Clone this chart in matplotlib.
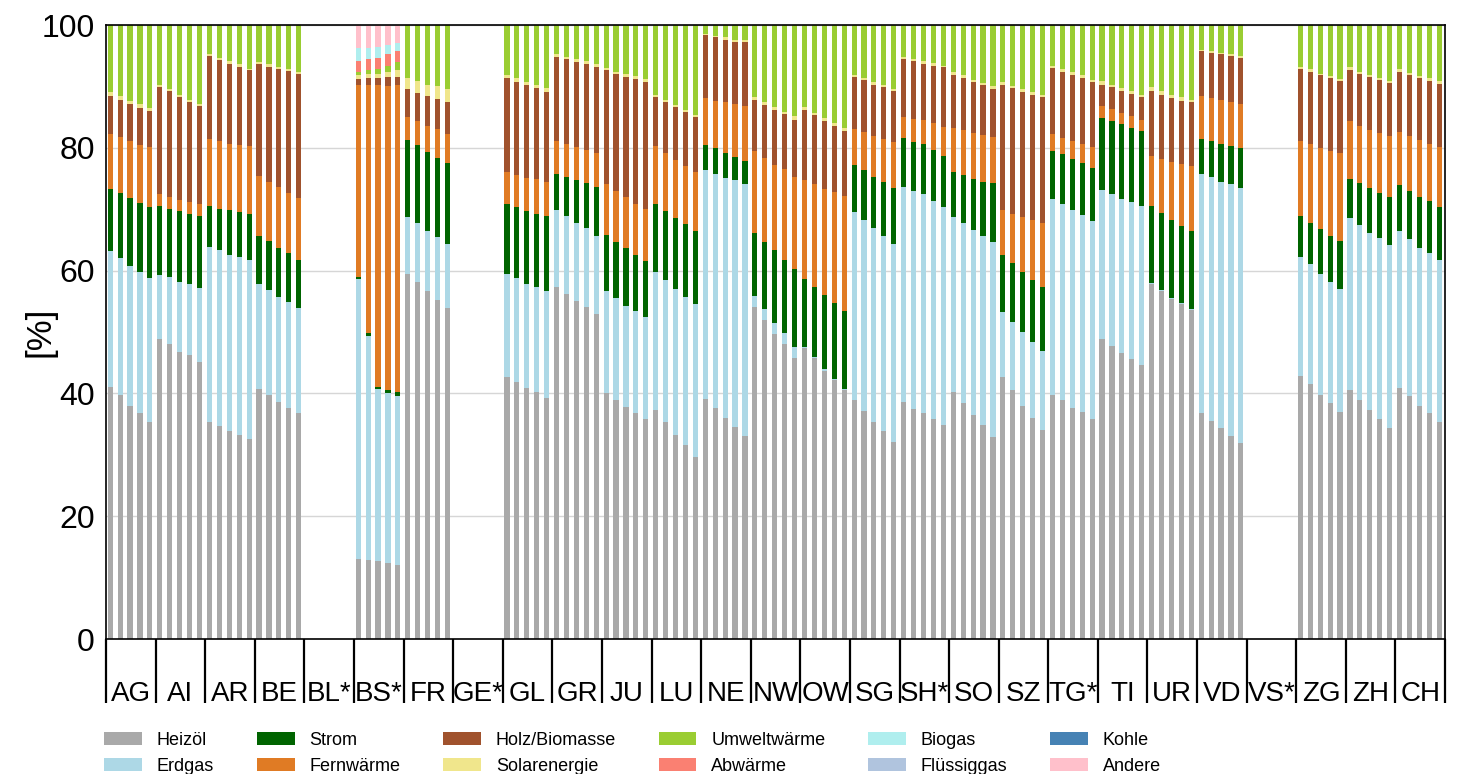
import numpy as np
import matplotlib.pyplot as plt

plt.rcParams['font.family'] = ['Liberation Sans', 'DejaVu Sans']

# Kantone (je 5 Erhebungsjahre), * = unvollstaendige Daten
kantone = ["AG", "AI", "AR", "BE", "BL*", "BS*", "FR", "GE*", "GL", "GR",
           "JU", "LU", "NE", "NW", "OW", "SG", "SH*", "SO", "SZ", "TG*",
           "TI", "UR", "VD", "VS*", "ZG", "ZH", "CH"]

# Anteile in %, eine Zeile pro Kanton (None = keine Daten)
heizoel = [
    [41.1, 39.7, 38.0, 36.8, 35.3],  # AG
    [48.8, 48.0, 46.8, 46.2, 45.1],  # AI
    [35.3, 34.7, 33.8, 33.2, 32.6],  # AR
    [40.7, 39.7, 38.6, 37.7, 36.8],  # BE
    None,                            # BL*
    [13.0, 12.8, 12.7, 12.4, 12.0],  # BS*
    [59.5, 58.1, 56.6, 55.2, 53.9],  # FR
    None,                            # GE*
    [42.7, 41.9, 40.8, 40.2, 39.3],  # GL
    [57.3, 56.2, 55.0, 54.1, 53.0],  # GR
    [40.0, 38.9, 37.8, 36.8, 35.8],  # JU
    [37.3, 35.3, 33.3, 31.6, 29.7],  # LU
    [39.1, 37.6, 36.0, 34.6, 33.1],  # NE
    [54.1, 51.9, 49.7, 48.0, 45.8],  # NW
    [47.4, 45.8, 43.7, 42.2, 40.5],  # OW
    [38.9, 37.2, 35.4, 33.8, 32.1],  # SG
    [38.6, 37.5, 36.8, 35.9, 34.8],  # SH*
    [40.3, 38.4, 36.5, 34.8, 32.9],  # SO
    [42.6, 40.5, 38.0, 36.0, 34.0],  # SZ
    [39.7, 38.9, 37.7, 37.0, 35.8],  # TG*
    [48.8, 47.8, 46.6, 45.6, 44.6],  # TI
    [57.8, 56.7, 55.4, 54.6, 53.6],  # UR
    [36.8, 35.5, 34.3, 33.1, 32.0],  # VD
    None,                            # VS*
    [42.8, 41.5, 39.7, 38.4, 37.0],  # ZG
    [40.5, 39.0, 37.3, 35.8, 34.3],  # ZH
    [40.9, 39.5, 38.0, 36.8, 35.4],  # CH
]
erdgas = [
    [22.1, 22.3, 22.7, 23.0, 23.5],
    [10.5, 10.9, 11.3, 11.6, 12.1],
    [28.6, 28.6, 28.8, 29.0, 29.1],
    [17.1, 17.2, 17.1, 17.2, 17.1],
    None,
    [45.6, 36.5, 28.0, 27.6, 27.5],
    [9.2, 9.6, 9.8, 10.3, 10.5],
    None,
    [16.8, 16.9, 17.0, 17.2, 17.3],
    [12.5, 12.7, 12.7, 12.8, 12.7],
    [16.6, 16.6, 16.5, 16.7, 16.7],
    [22.5, 23.1, 23.7, 24.1, 24.8],
    [37.3, 38.2, 39.1, 40.1, 41.0],
    [1.8, 1.8, 1.8, 1.8, 1.8],
    [0.2, 0.2, 0.2, 0.2, 0.2],
    [30.7, 31.0, 31.5, 31.9, 32.2],
    [35.0, 35.5, 35.6, 35.4, 35.5],
    [28.5, 29.4, 30.1, 30.9, 31.8],
    [10.6, 11.2, 12.0, 12.4, 12.9],
    [32.0, 32.0, 32.1, 32.1, 32.2],
    [24.3, 24.6, 25.0, 25.5, 25.9],
    [0.2, 0.2, 0.2, 0.2, 0.2],
    [39.0, 39.8, 40.2, 41.0, 41.5],
    None,
    [19.4, 19.5, 19.8, 19.8, 20.0],
    [28.1, 28.5, 28.9, 29.5, 29.9],
    [25.5, 25.6, 25.7, 26.1, 26.4],
]
strom = [
    [10.1, 10.6, 11.1, 11.2, 11.5],
    [11.2, 11.2, 11.6, 11.5, 11.7],
    [6.6, 6.8, 7.2, 7.3, 7.6],
    [7.9, 7.9, 8.0, 7.9, 7.9],
    None,
    [0.4, 0.5, 0.4, 0.5, 0.7],
    [12.6, 12.7, 12.9, 12.9, 13.1],
    None,
    [11.3, 11.5, 11.9, 11.9, 12.3],
    [6.0, 6.4, 7.1, 7.4, 7.9],
    [9.2, 9.2, 9.4, 9.1, 9.1],
    [11.1, 11.3, 11.6, 11.9, 12.0],
    [4.0, 4.1, 4.1, 3.8, 3.7],
    [10.3, 11.0, 11.8, 12.0, 12.7],
    [11.0, 11.4, 12.2, 12.3, 12.8],
    [7.6, 8.2, 8.4, 8.8, 9.2],
    [8.0, 7.9, 8.3, 8.3, 8.4],
    [7.2, 7.7, 8.4, 8.8, 9.5],
    [9.4, 9.5, 9.8, 10.1, 10.4],
    [7.8, 8.1, 8.4, 8.4, 8.7],
    [11.8, 12.0, 12.2, 12.1, 12.2],
    [12.5, 12.5, 12.6, 12.5, 12.6],
    [5.7, 5.8, 6.1, 6.2, 6.4],
    None,
    [6.7, 6.8, 7.3, 7.5, 7.9],
    [6.3, 6.7, 7.2, 7.3, 7.8],
    [7.6, 7.9, 8.3, 8.4, 8.6],
]
fernwaerme = [
    [9.0, 9.2, 9.3, 9.5, 9.8],
    [1.9, 1.9, 1.8, 1.8, 1.9],
    [11.0, 11.0, 10.9, 11.0, 11.0],
    [9.7, 9.7, 9.9, 9.8, 10.0],
    None,
    [31.2, 40.4, 49.1, 49.6, 50.0],
    [3.7, 3.9, 4.3, 4.6, 4.8],
    None,
    [5.2, 5.2, 5.4, 5.6, 5.6],
    [5.3, 5.3, 5.3, 5.3, 5.5],
    [8.3, 8.3, 8.3, 8.3, 8.5],
    [9.4, 9.5, 9.4, 9.4, 9.5],
    [7.7, 7.8, 8.2, 8.7, 9.0],
    [13.3, 13.7, 13.9, 14.7, 15.0],
    [16.2, 16.7, 17.2, 18.1, 18.6],
    [5.9, 6.2, 6.7, 6.9, 7.4],
    [3.4, 3.8, 3.8, 4.4, 4.7],
    [7.2, 7.4, 7.4, 7.6, 7.6],
    [7.3, 8.1, 9.0, 9.7, 10.4],
    [2.7, 2.6, 2.9, 3.1, 3.4],
    [1.9, 1.9, 1.9, 1.9, 1.8],
    [8.2, 8.8, 9.5, 10.0, 10.6],
    [6.9, 7.0, 7.2, 7.1, 7.3],
    None,
    [12.2, 12.8, 13.2, 13.8, 14.2],
    [9.4, 9.4, 9.5, 9.8, 9.9],
    [8.6, 9.0, 9.3, 9.4, 9.8],
]
holz = [
    [6.1, 6.0, 6.0, 6.0, 5.9],
    [17.5, 17.2, 16.8, 16.4, 16.0],
    [13.4, 13.2, 13.0, 12.7, 12.3],
    [18.2, 18.7, 19.2, 19.9, 20.3],
    None,
    [1.0, 1.1, 1.1, 1.4, 1.4],
    [4.5, 4.7, 4.8, 5.0, 5.2],
    None,
    [15.4, 15.2, 15.1, 14.8, 14.6],
    [13.7, 13.8, 13.8, 14.1, 14.1],
    [18.5, 19.0, 19.6, 20.3, 20.6],
    [8.0, 8.2, 8.6, 8.8, 9.0],
    [10.2, 10.3, 10.2, 10.1, 10.4],
    [8.3, 8.6, 8.9, 9.0, 9.3],
    [11.3, 11.2, 11.0, 10.8, 10.7],
    [8.5, 8.4, 8.3, 8.5, 8.3],
    [9.4, 9.4, 9.2, 9.4, 9.7],
    [8.7, 8.5, 8.3, 8.1, 7.7],
    [20.3, 20.4, 20.3, 20.4, 20.5],
    [10.8, 10.8, 10.8, 10.8, 10.6],
    [3.5, 3.6, 3.5, 3.7, 3.7],
    [10.5, 10.4, 10.4, 10.4, 10.4],
    [7.3, 7.4, 7.4, 7.6, 7.5],
    None,
    [11.7, 11.8, 11.8, 11.9, 11.8],
    [8.4, 8.5, 8.6, 8.6, 8.6],
    [9.8, 9.9, 10.1, 10.2, 10.2],
]
solar = [
    [0.7, 0.6, 0.6, 0.6, 0.5],
    [0.3, 0.3, 0.3, 0.3, 0.3],
    [0.4, 0.3, 0.4, 0.4, 0.3],
    [0.3, 0.4, 0.4, 0.3, 0.3],
    None,
    [0.7, 0.7, 0.8, 0.9, 1.1],
    [1.9, 1.9, 1.9, 2.0, 2.0],
    None,
    [0.5, 0.7, 0.5, 0.5, 0.6],
    [0.5, 0.4, 0.5, 0.4, 0.5],
    [0.4, 0.4, 0.4, 0.5, 0.5],
    [0.3, 0.4, 0.3, 0.3, 0.4],
    [0.3, 0.2, 0.4, 0.3, 0.3],
    [0.5, 0.4, 0.5, 0.4, 0.5],
    [0.5, 0.4, 0.5, 0.4, 0.4],
    [0.3, 0.4, 0.4, 0.3, 0.3],
    [0.4, 0.3, 0.4, 0.4, 0.3],
    [0.5, 0.4, 0.4, 0.4, 0.5],
    [0.5, 0.4, 0.4, 0.5, 0.4],
    [0.4, 0.4, 0.4, 0.4, 0.4],
    [0.6, 0.4, 0.5, 0.4, 0.4],
    [0.7, 0.6, 0.5, 0.5, 0.4],
    [0.2, 0.2, 0.3, 0.3, 0.3],
    None,
    [0.4, 0.4, 0.3, 0.3, 0.3],
    [0.4, 0.3, 0.4, 0.4, 0.4],
    [0.4, 0.3, 0.3, 0.5, 0.4],
]
umweltwaerme = [
    [10.9, 11.6, 12.3, 12.9, 13.5],
    [9.8, 10.5, 11.4, 12.2, 12.9],
    [4.7, 5.4, 5.9, 6.4, 7.1],
    [6.1, 6.4, 6.8, 7.2, 7.6],
    None,
    [0.5, 0.7, 0.7, 0.9, 1.2],
    [8.6, 9.1, 9.7, 10.0, 10.5],
    None,
    [8.1, 8.6, 9.3, 9.8, 10.3],
    [4.7, 5.2, 5.6, 5.9, 6.3],
    [7.0, 7.6, 8.0, 8.3, 8.8],
    [11.4, 12.2, 13.1, 13.9, 14.6],
    [1.4, 1.8, 2.0, 2.4, 2.5],
    [11.7, 12.6, 13.4, 14.1, 14.9],
    [13.4, 14.3, 15.2, 16.0, 16.8],
    [8.1, 8.6, 9.3, 9.8, 10.5],
    [5.2, 5.6, 5.9, 6.2, 6.6],
    [7.6, 8.2, 8.9, 9.4, 10.0],
    [9.3, 9.9, 10.5, 10.9, 11.4],
    [6.6, 7.2, 7.7, 8.2, 8.9],
    [9.1, 9.7, 10.3, 10.8, 11.4],
    [10.1, 10.8, 11.4, 11.8, 12.2],
    [4.1, 4.3, 4.5, 4.7, 5.0],
    None,
    [6.8, 7.2, 7.9, 8.3, 8.8],
    [6.9, 7.6, 8.1, 8.6, 9.1],
    [7.2, 7.8, 8.3, 8.6, 9.2],
]
# nur in Basel-Stadt ausgewiesen
abwaerme = {"BS*": [1.7, 1.7, 1.9, 2.0, 1.9]}
biogas = {"BS*": [2.2, 1.9, 1.7, 1.4, 1.2]}
fluessiggas = {}
kohle = {}
andere = {"BS*": [3.7, 3.7, 3.6, 3.3, 3.0]}


def zeilen(werte):
    """Kantonsliste bzw. Dict in ein flaches Array (Kanton x Jahr) umwandeln."""
    if isinstance(werte, dict):
        werte = [werte.get(k) for k in kantone]
    flach = [v if v is not None else [0.0] * 5 for v in werte]
    return np.array(flach, dtype=float).ravel()


traeger = [
    ("Heizöl", heizoel, "#a9a9a9"),
    ("Erdgas", erdgas, "#add8e6"),
    ("Strom", strom, "#006400"),
    ("Fernwärme", fernwaerme, "#e07b24"),
    ("Holz/Biomasse", holz, "#a0522d"),
    ("Solarenergie", solar, "#f0e68c"),
    ("Umweltwärme", umweltwaerme, "#9acd32"),
    ("Abwärme", abwaerme, "#fa8072"),
    ("Biogas", biogas, "#afeeee"),
    ("Flüssiggas", fluessiggas, "#b0c4de"),
    ("Kohle", kohle, "#4682b4"),
    ("Andere", andere, "#ffc0cb"),
]

n = len(kantone)
x = np.arange(n * 5) + 0.42

fig = plt.figure(figsize=(14.59, 7.74), dpi=100)
ax = fig.add_axes([0.0727, 0.1744, 0.9177, 0.7933])

unten = np.zeros(n * 5)
handles = []
for name, werte, farbe in traeger:
    h = zeilen(werte)
    balken = ax.bar(x, h, width=0.52, bottom=unten, color=farbe, label=name,
                    linewidth=0)
    handles.append(balken)
    unten += h

ax.set_xlim(0, n * 5)
ax.set_ylim(0, 100)
ax.set_yticks(np.arange(0, 101, 20))
ax.tick_params(axis='y', length=0, pad=8, labelsize=23)
ax.grid(axis='y', color='#d6d6d6', linewidth=1)
ax.set_axisbelow(True)
ax.set_ylabel("[%]", fontsize=25)
ax.yaxis.set_label_coords(-0.037, 0.5)

# Trennstriche zwischen den Kantonen, Beschriftung in der Mitte
ax.set_xticks(np.arange(0, n * 5 + 1, 5))
ax.set_xticklabels([])
ax.tick_params(axis='x', which='major', length=46, width=1.6, color='black')
ax.set_xticks(np.arange(n) * 5 + 2.5, minor=True)
ax.set_xticklabels(kantone, minor=True, fontsize=20)
ax.tick_params(axis='x', which='minor', length=0, pad=30)

for s in ax.spines.values():
    s.set_linewidth(1.2)

fig.legend(handles=handles, loc='upper left', bbox_to_anchor=(0.0713, 0.0545),
           ncol=6, frameon=False, fontsize=13, handlelength=2.1,
           handleheight=0.72, handletextpad=0.83, columnspacing=2.35,
           labelspacing=0.5, borderpad=0, borderaxespad=0)

fig.savefig("out.png", dpi=100)
